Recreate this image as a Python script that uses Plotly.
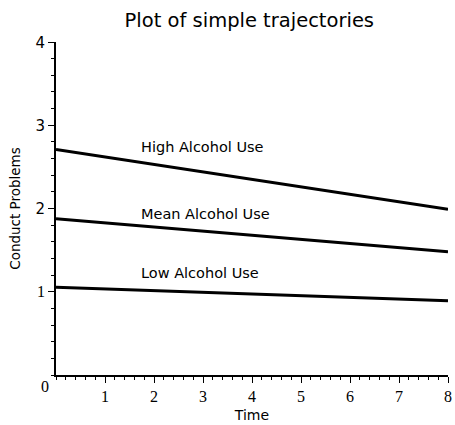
import plotly.graph_objects as go

time = [0, 8]
high = [2.71, 1.99]
mean = [1.877, 1.48]
low = [1.053, 0.893]
labels = ["High Alcohol Use", "Mean Alcohol Use", "Low Alcohol Use"]
label_x = [1.7, 1.7, 1.7]
label_y = [2.74, 1.93, 1.22]
xticks = [1, 2, 3, 4, 5, 6, 7, 8]
yticks = [1, 2, 3, 4]

SANS = "DejaVu Sans"
SERIF = "Liberation Serif"

fig = go.Figure()
for ys in (high, mean, low):
    fig.add_trace(go.Scatter(x=time, y=ys, mode="lines",
                             line=dict(color="black", width=3),
                             cliponaxis=False, showlegend=False, hoverinfo="skip"))

for t, x, y in zip(labels, label_x, label_y):
    fig.add_annotation(x=x, y=y, text=t, showarrow=False, xanchor="left",
                       yanchor="middle", font=dict(family=SANS, size=14.5, color="black"))

fig.add_annotation(x=0, y=0, text="0", showarrow=False, xanchor="right", yanchor="top",
                   xshift=-5, yshift=-1, font=dict(family=SERIF, size=16, color="black"))

ytext = []
for v in yticks:
    if v == 1:
        ytext.append(str(v))
    else:
        ytext.append('<span style="font-family:\'%s\';font-size:15px">%d</span>' % (SANS, v))

fig.update_layout(
    width=455, height=425,
    margin=dict(l=56, r=3, t=42, b=50),
    plot_bgcolor="white", paper_bgcolor="white",
    title=dict(text="Plot of simple trajectories", x=0.548, xanchor="center",
               y=0.952, yanchor="middle",
               font=dict(family=SANS, size=19.5, color="black")),
    xaxis=dict(range=[0, 8], showgrid=False, zeroline=False, showline=True,
               linecolor="black", linewidth=1.5, ticks="outside", ticklen=6,
               tickwidth=1, tickcolor="black", tickvals=xticks,
               ticktext=[str(v) for v in xticks], ticklabeloverflow="allow",
               tickfont=dict(family=SERIF, size=16, color="black"),
               minor=dict(dtick=0.2, ticks="outside", ticklen=3, tickcolor="black", showgrid=False),
               title=dict(text="Time", font=dict(family=SANS, size=14, color="black"), standoff=6)),
    yaxis=dict(range=[0, 4], showgrid=False, zeroline=False, showline=True,
               linecolor="black", linewidth=1.5, ticks="outside", ticklen=6,
               tickwidth=1, tickcolor="black", tickvals=yticks, ticktext=ytext,
               tickfont=dict(family=SERIF, size=16, color="black"),
               minor=dict(dtick=0.2, ticks="outside", ticklen=3, tickcolor="black", showgrid=False),
               title=dict(text="Conduct Problems", font=dict(family=SANS, size=13.5, color="black"), standoff=12)),
)

fig.write_html("out.html")
